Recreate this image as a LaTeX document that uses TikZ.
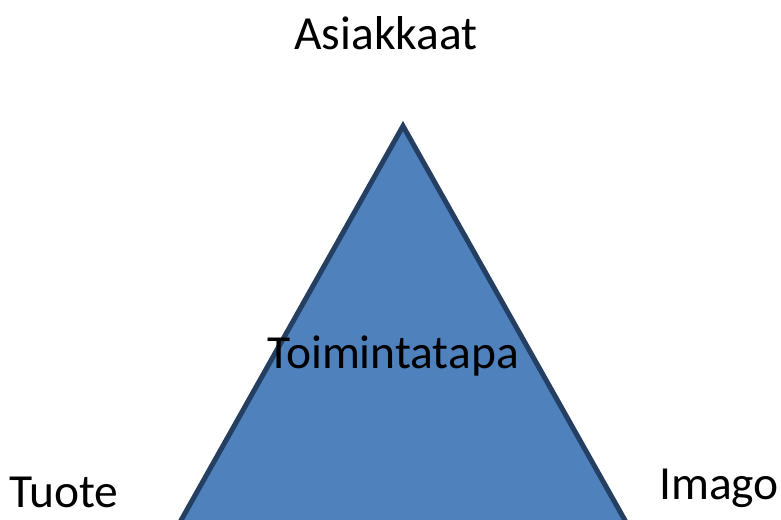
\documentclass[tikz,border=0pt]{standalone}
\usepackage{fontspec}
\setmainfont{Carlito}
\definecolor{trifill}{HTML}{4F81BD}
\definecolor{triline}{HTML}{243F62}
\begin{document}
\begin{tikzpicture}[x=1pt,y=-1pt,
  lbl/.style={font=\fontsize{47.5}{56}\selectfont, anchor=base, inner sep=0pt}]
\useasboundingbox (0,0) rectangle (781,519);
\clip (0,0) rectangle (781,519);
\draw[fill=trifill, draw=triline, line width=5pt, line join=miter]
  (403,126) -- (631,531) -- (175,531) -- cycle;
\node[lbl] (top) at (386,50) {Asiakkaat};
\node[lbl] (mid) at (393,368) {Toimintatapa};
\node[lbl] (left) at (64,507) {Tuote};
\node[lbl] (right) at (719,499) {Imago};
\end{tikzpicture}
\end{document}
